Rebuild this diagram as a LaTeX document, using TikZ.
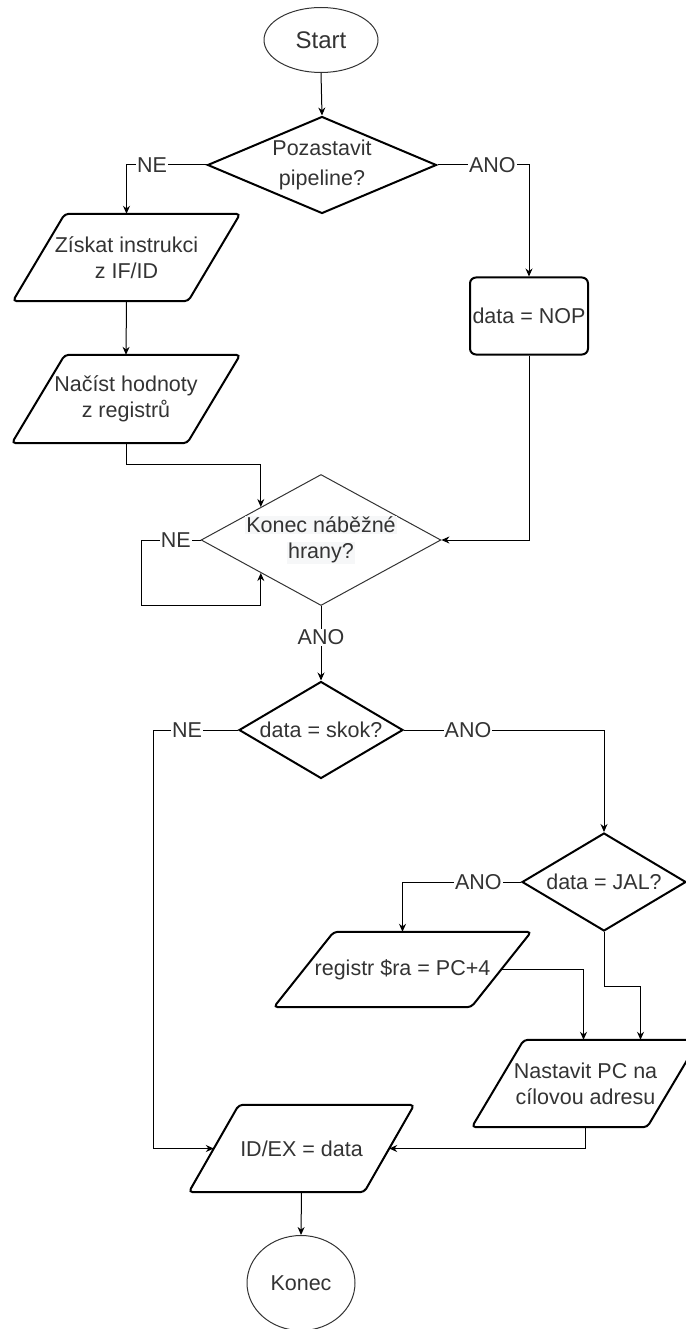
\documentclass[tikz,border=0pt]{standalone}
\usepackage{fontspec}
\setmainfont{Liberation Sans}
\usepackage{xcolor}
\usepackage{tikz}
\usetikzlibrary{shapes,shapes.geometric,positioning,calc,arrows.meta}

\definecolor{inkgray}{RGB}{51,51,51}
\definecolor{hlgray}{RGB}{246,247,248}
\newcommand{\hlline}[1]{{\setlength{\fboxsep}{1pt}\colorbox{hlgray}{#1}}}

\begin{document}
\begin{tikzpicture}[x=1pt,y=-1pt,>={Stealth[length=8pt,width=7pt]}]
            \tikzset{
                term/.style={
                    draw=inkgray,
                    ellipse,
                    line width=1pt,
                    inner sep=0pt,
                    text=inkgray,
                    font=\fontsize{21.5}{26}\selectfont
                }
            }
            \tikzset{
                decision/.style={
                    draw=black,
                    diamond,
                    line width=2pt,
                    inner sep=0pt,
                    align=center,
                    text=inkgray,
                    font=\fontsize{21.5}{26}\selectfont
                }
            }
            \tikzset{
                io/.style={
                    minimum width=175,
                    minimum height=87,
                    inner sep=0pt,
                    align=center,
                    text=inkgray,
                    font=\fontsize{21.5}{26}\selectfont
                }
            }
            \tikzset{
                ioline/.style={
                    draw=black,
                    line width=2pt,
                    rounded corners=4pt
                }
            }
            \tikzset{
                proc/.style={
                    draw=black,
                    rounded corners=6pt,
                    line width=2pt,
                    minimum width=118,
                    minimum height=77,
                    inner sep=0pt,
                    text=inkgray,
                    font=\fontsize{21.5}{26}\selectfont
                }
            }
            \tikzset{
                flow/.style={
                    black,
                    line width=1pt
                }
            }
            \tikzset{
                lbl/.style={
                    fill=white,
                    inner sep=1pt,
                    text=inkgray,
                    font=\fontsize{21.5}{26}\selectfont
                }
            }

            \useasboundingbox (0,0) rectangle (685,1329);

            \node[term, minimum width=114, minimum height=65, font=\fontsize{24}{28}\selectfont] (start) at (321,40) {Start};
            \node[decision, aspect=2.375, minimum width=229, minimum height=97, font=\fontsize{21.5}{30}\selectfont] (stall) at (322,165) {Pozastavit\\pipeline?};
            \node[io] (fetch) at (126.5,257.5) {Získat instrukci\\z IF/ID};
            \node[io, minimum height=88] (regs) at (126,399) {Načíst hodnoty\\z registrů};
            \node[proc] (nop) at (529,316) {data = NOP};
            \node[decision, draw=inkgray, line width=1pt, aspect=1.83, minimum width=238, minimum height=130] (rising) at (321,540) {\hlline{Konec náběžné}\\\hlline{hrany?}};
            \node[decision, aspect=1.69, minimum width=164, minimum height=97] (jump) at (321,730) {data = skok?};
            \node[decision, aspect=1.67, minimum width=164, minimum height=98] (jal) at (604,882) {data = JAL?};
            \node[io, minimum width=197, minimum height=75] (ra) at (402.5,969.5) {registr \$ra = PC+4};
            \node[io] (pc) at (585.5,1083.5) {Nastavit PC na\\cílovou adresu};
            \node[io] (idex) at (301.5,1148.5) {ID/EX = data};
            \node[term, minimum width=108, minimum height=95] (konec) at (301,1283) {Konec};

            \foreach \n/\s in {fetch/52, regs/53, ra/60, pc/52, idex/50}
                \draw[ioline] ($(\n.south west)+(-\s/2,0)$) -- ($(\n.north west)+(\s/2,0)$)
                    -- ($(\n.north east)+(\s/2,0)$) -- ($(\n.south east)+(-\s/2,0)$) -- cycle;

            \draw[->,flow] (start.south) -- (stall.north);
            \draw[->,flow] (stall.west) -| node[lbl,pos=0.34] {NE} (fetch.north);
            \draw[->,flow] (stall.east) -| node[lbl,pos=0.3] {ANO} (nop.north);
            \draw[->,flow] (fetch.south) -- (regs.north);
            \draw[->,flow] (regs.south) -- ++(0,21) -| (rising.north west);
            \draw[->,flow] (nop.south) |- (rising.east);
            \draw[->,flow] (rising.west) -- node[lbl,pos=0.42] {NE} ++(-59,0) -- ++(0,65) -| (rising.south west);
            \draw[->,flow] (rising.south) -- node[lbl,pos=0.42] {ANO} (jump.north);
            \draw[->,flow] (jump.west) -- node[lbl,pos=0.6] {NE} ++(-85,0) |- (idex.west);
            \draw[->,flow] (jump.east) -| node[lbl,pos=0.16] {ANO} (jal.north);
            \draw[->,flow] (jal.west) -| node[lbl,pos=0.18] {ANO} (ra.north);
            \draw[->,flow] (ra.east) -| ($(pc.north)+(-2,0)$);
            \draw[->,flow] (jal.south) -- ++(0,54) -| ($(pc.north)+(55,0)$);
            \draw[->,flow] (pc.south) |- (idex.east);
            \draw[->,flow] (idex.south) -- (konec.north);
        \end{tikzpicture}
\end{document}
